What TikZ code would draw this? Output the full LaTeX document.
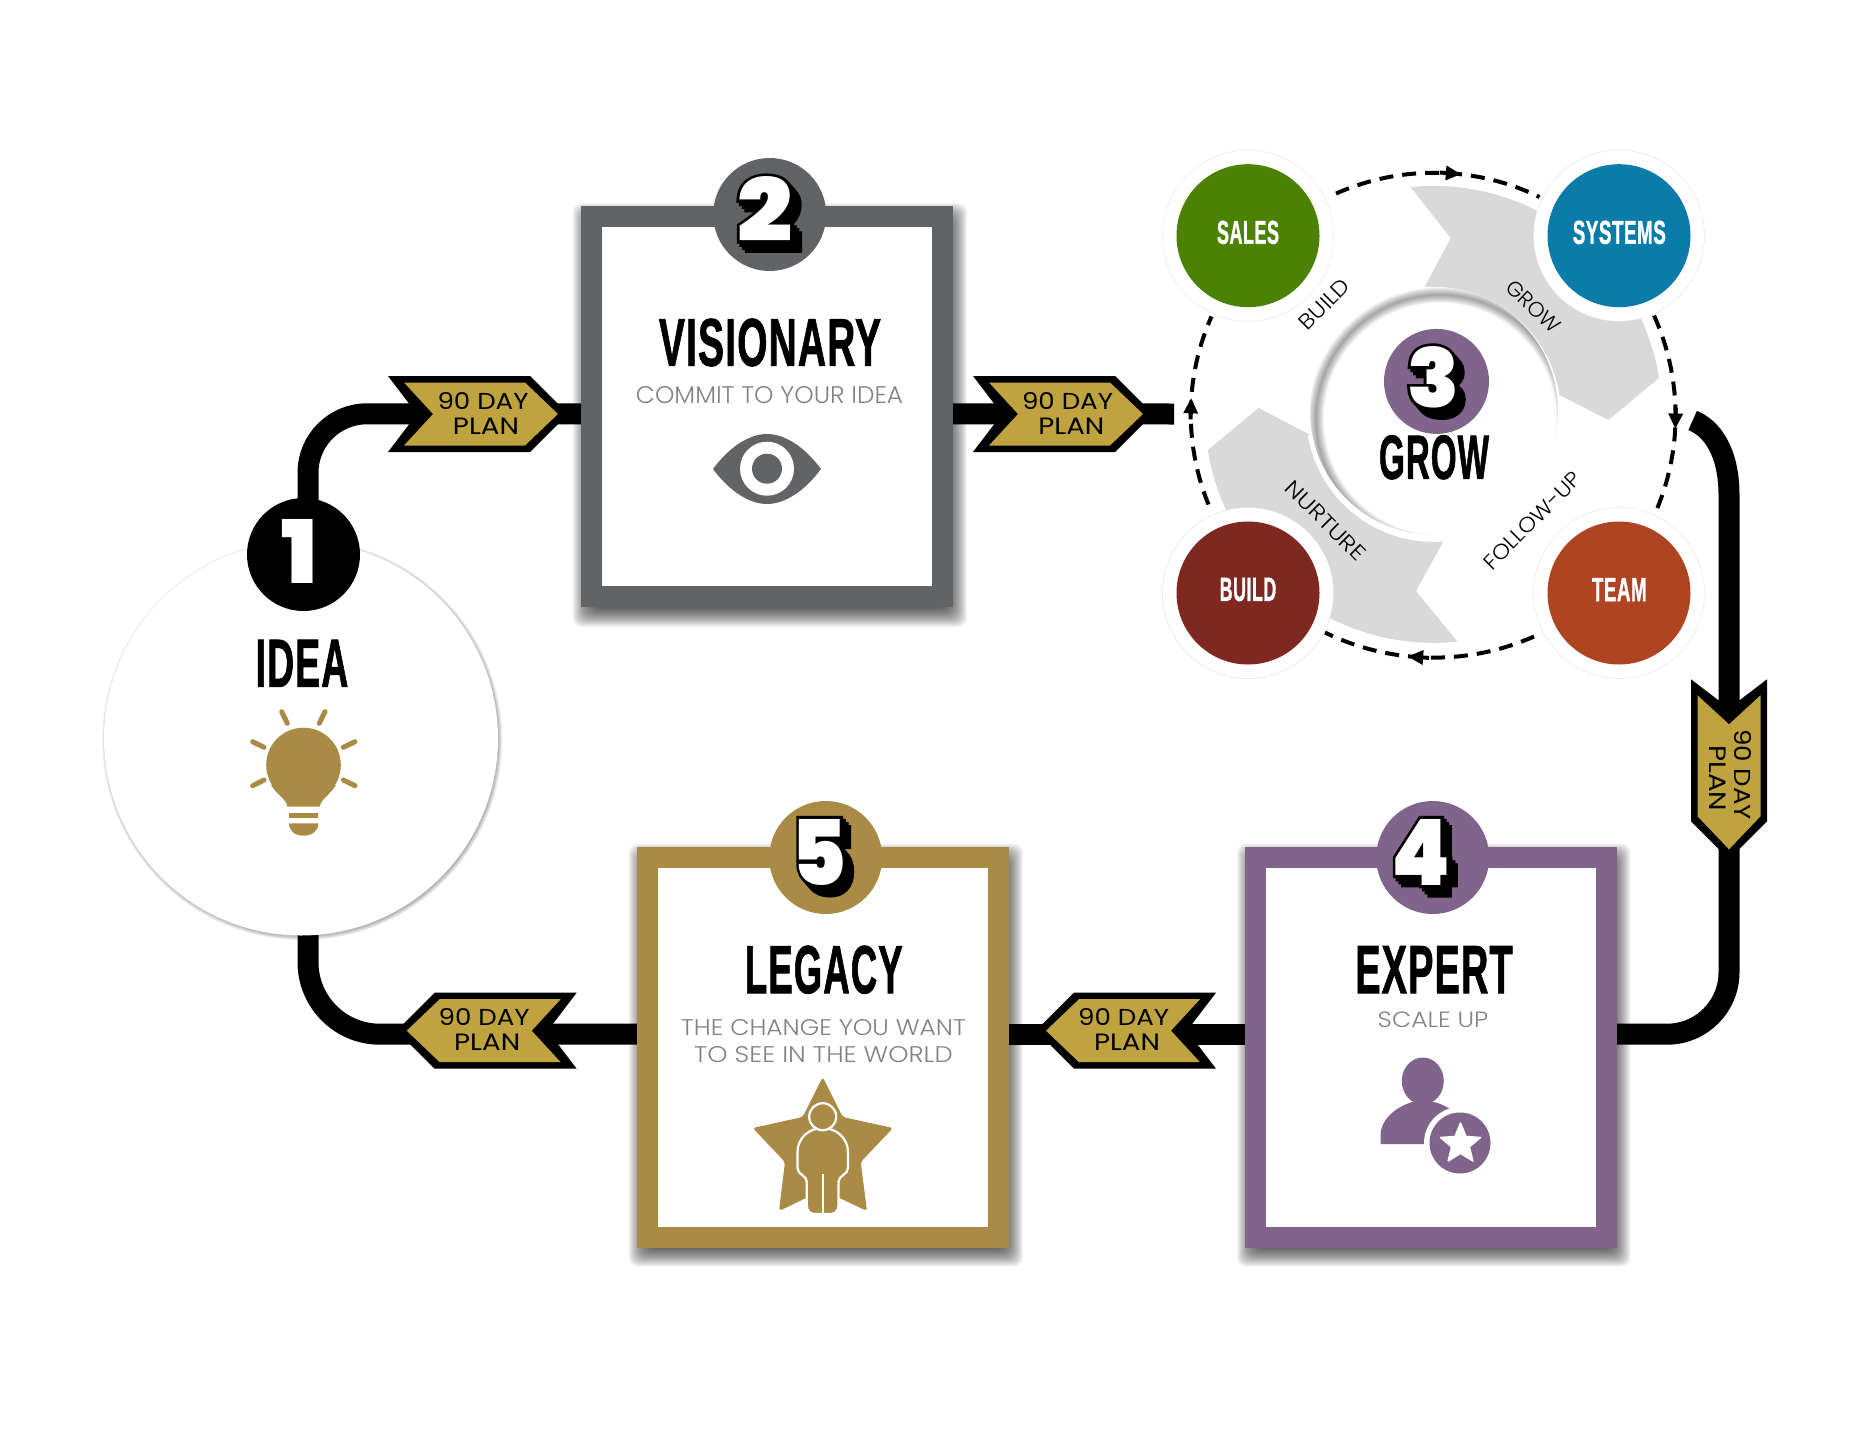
\documentclass[tikz,border=0pt]{standalone}
\usepackage{graphicx}
\usepackage{fontspec}
\usetikzlibrary{calc,backgrounds,shapes.geometric,arrows.meta,decorations.markings}
\setmainfont{Poppins}
\newfontfamily\ttlf[FakeBold=1.5,LetterSpace=3]{Liberation Sans Bold}
\newfontfamily\lightf{Poppins Light}
\newfontfamily\tagf{Poppins}
\newfontfamily\digthin{Poppins Black}
\newfontfamily\digfat[FakeBold=7]{Poppins Black}
\definecolor{cSales}{HTML}{4C8203}
\definecolor{cSystems}{HTML}{0B7CA9}
\definecolor{cBuild}{HTML}{7E2821}
\definecolor{cTeam}{HTML}{AE4422}
\definecolor{cPurple}{HTML}{81648B}
\definecolor{cGold}{HTML}{A98B46}
\definecolor{cTag}{HTML}{BEA33F}
\definecolor{cGrey}{HTML}{616365}
\definecolor{cLabel}{HTML}{808285}
\definecolor{cSwoosh}{HTML}{D9D9D9}
\newcommand\fit[3]{\resizebox{#1pt}{#2pt}{#3}}
\tikzset{
  txt/.style={inner sep=0pt,outer sep=0pt},
  framebox/.style={rectangle,fill=white,line width=21pt,minimum width=351pt,minimum height=380pt,inner sep=0pt},
  badge/.style={circle,minimum size=113pt,inner sep=0pt},
  spot/.style={circle,minimum size=143pt,inner sep=0pt},
  halo/.style={circle,fill=white,minimum size=171pt,inner sep=0pt,line width=.5pt},
  flowline/.style={line width=21pt,black},
  ringarc/.style={line width=4pt,black,dash pattern=on 14pt off 9pt,looseness=.89},
  ringmark/.style={postaction={decorate,decoration={markings,mark=at position #1 with {%
    \fill[black] (8,0)--(-7,-7.5)--(-7,7.5)--cycle;
    \draw[black,solid,line width=4pt] (-13,0)--(-6,0);}}}},
}
\newcommand\tagbody[3]{%
  \begin{scope}[shift={(#1,#2)},rotate=#3]
    \fill[black] (0,-38)--(142,-38)--(180,0)--(142,38)--(0,38)--(29,0)--cycle;
    \fill[cTag] (16,-31.5)--(137,-31.5)--(170,0)--(137,31.5)--(16,31.5)--(45,0)--cycle;
  \end{scope}}
\newcommand\digit[6]{%
  \foreach \s in {0,1,2,3}{%
    \node[txt] at (#2+\s*2.7,#3+\s*3.1) {\fit{#4}{#5}{\digfat #6}};}
  \node[txt,white] (#1) at (#2,#3) {\fit{#4}{#5}{\digthin #6}};}
\newcommand\frameshadow[4]{%
  \foreach \i in {-8,-7,...,11}{%
    \fill[black,opacity=.042,rounded corners=9pt] (#1+3-\i,#2+8-\i) rectangle (#3+3+\i,#4+8+\i);}}
\begin{document}
\begin{tikzpicture}[x=1pt,y=-1pt]
\useasboundingbox (0,0) rectangle (1864,1440);
\begin{scope}[on background layer]
  \fill[white] (0,0) rectangle (1864,1440);
  \frameshadow{580.7}{206}{953}{608}
  \frameshadow{636.7}{846.7}{1009}{1247.7}
  \frameshadow{1244.8}{846.7}{1616.6}{1247.7}
  \foreach \i in {0,1,...,6}{%
    \fill[black,opacity=.07] (302.3,740) circle (194+\i);}
\end{scope}

% 1 idea
\node[circle,fill=white,minimum size=394pt,inner sep=0pt] (idea) at (301,738.5) {};
\node[badge,fill=black] (b1) at (303.5,554.5) {};
\node[txt,white] (n1) at (300,551) {\fit{36}{64}{\digthin 1}};
\node[txt] (ideat) at (302,663.3) {\fit{92.6}{46.7}{\ttlf IDEA}};
\foreach \a/\b/\c/\d in {281.7/711.7/287.3/723.3, 325/711.7/319.3/723.3, 252.7/741.7/264/747.3, 355/741.7/343.3/747.3, 252.7/785.7/264/780, 355/785.7/343.3/780}{%
  \draw[cGold,line width=5pt,line cap=round] (\a,\b)--(\c,\d);}
\fill[cGold] (303.5,765) circle (37.3);
\fill[cGold] (271,785) .. controls (278,796) and (287.3,800) .. (287.3,806.7) -- (320,806.7) .. controls (320,800) and (329,796) .. (336,785) -- cycle;
\fill[cGold] (289,813) rectangle (318.3,818.3);
\fill[cGold] (289,823.3) -- (318.3,823.3) .. controls (318.3,831) and (312,835.7) .. (303.7,835.7) .. controls (295,835.7) and (289,831) .. (289,823.3) -- cycle;

% 2 visionary
\node[framebox,draw=cGrey] (box2) at (766.8,406.8) {};
\node[badge,fill=cGrey] (b2) at (769.7,214.5) {};
\digit{n2}{765}{209}{55}{65}{2}
\node[txt] (t2) at (770,342.5) {\fit{222}{47}{\ttlf VISIONARY}};
\node[txt,cLabel] (s2) at (769.5,395.5) {\fit{267}{17}{\lightf COMMIT TO YOUR IDEA}};
\fill[cGrey] (713,469) .. controls (730,446) and (750,434) .. (767,434) .. controls (784,434) and (804,446) .. (821,469) .. controls (804,492) and (784,504) .. (767,504) .. controls (750,504) and (730,492) .. (713,469) -- cycle;
\fill[white] (767,468.7) circle (27);
\fill[cGrey] (767,468.7) circle (15);

% 3 grow
\fill[cSwoosh] (1450.7,238) -- (1410.5,187)
  -- plot[domain=95.8:9.2,samples=40] ({1433.5+228.5*cos(\x)},{414.4-228.5*sin(\x)})
  -- (1608.4,420) -- (1560.5,395.5)
  -- plot[domain=8.5:94,samples=40] ({1433.5+127.5*cos(\x)},{414.4-127.5*sin(\x)})
  -- cycle;
\fill[cSwoosh] (1416,591) -- (1457,641)
  -- plot[domain=275.9:189,samples=40] ({1433.5+228.5*cos(\x)},{414.4-228.5*sin(\x)})
  -- (1258.6,408) -- (1310,434.7)
  -- plot[domain=189.2:274.4,samples=40] ({1433.5+127.5*cos(\x)},{414.4-127.5*sin(\x)})
  -- cycle;
\node[circle,fill=white,minimum size=248pt,inner sep=0pt] (core) at (1434,411) {};
\begin{scope}
  \clip (1434,411) circle (124);
  \foreach \k in {1,2,...,16}{%
    \draw[black,opacity=.025,line width=\k pt] (1440,419) circle (124);}
\end{scope}
\node[halo,draw=cSales!15] (h1) at (1248,235.7) {};
\node[halo,draw=cSystems!15] (h2) at (1619,235.7) {};
\node[halo,draw=cBuild!15] (h3) at (1248,593) {};
\node[halo,draw=cTeam!15] (h4) at (1619,593) {};
\node[spot,fill=cSales] (sales) at (1248,235.7) {};
\node[spot,fill=cSystems] (systems) at (1619,235.7) {};
\node[spot,fill=cBuild] (build) at (1248,593) {};
\node[spot,fill=cTeam] (team) at (1619,593) {};
\node[txt,white] (ls) at (1248,232.4) {\fit{62}{23}{\ttlf SALES}};
\node[txt,white] (ly) at (1619.3,232.4) {\fit{93}{23}{\ttlf SYSTEMS}};
\node[txt,white] (lb) at (1248,589.5) {\fit{56.6}{23}{\ttlf BUILD}};
\node[txt,white] (lt) at (1619.3,589.5) {\fit{54.7}{23}{\ttlf TEAM}};
\node[txt,rotate=45] (rb) at (1324.6,304) {\fit{62}{15}{\lightf BUILD}};
\node[txt,rotate=-43] (rg) at (1533.6,306.7) {\fit{66}{15}{\lightf GROW}};
\node[txt,rotate=45] (rf) at (1532.3,520.7) {\fit{128}{15}{\lightf FOLLOW-UP}};
\node[txt,rotate=-45] (rn) at (1325.5,520.7) {\fit{104}{15}{\lightf NURTURE}};
\node[badge,minimum size=105pt,fill=cPurple] (b3) at (1436.5,381.4) {};
\digit{n3}{1433}{377}{52}{61}{3}
\node[txt] (t3) at (1434,457.3) {\fit{110}{43.5}{\ttlf GROW}};
\coordinate (a1s) at (1336,193.6);
\coordinate (a1e) at (1539.5,197);
\coordinate (a2s) at (1654,315.5);
\coordinate (a2e) at (1655,513.6);
\coordinate (a3s) at (1534,636.5);
\coordinate (a3e) at (1325,632.5);
\coordinate (a4s) at (1208.5,504.5);
\coordinate (a4e) at (1211.5,316.5);
\draw[ringarc,ringmark=.57] (a1s) to[bend left=25] (a1e);
\draw[ringarc,ringmark=.53] (a2s) to[bend left=24] (a2e);
\draw[ringarc,ringmark=.56] (a3s) to[bend left=25] (a3e);
\draw[ringarc,ringmark=.52] (a4s) to[bend left=23] (a4e);

% 4 expert
\node[framebox,draw=cPurple] (box4) at (1430.7,1047.2) {};
\node[badge,fill=cPurple] (b4) at (1432.7,857.5) {};
\digit{n4}{1421}{852}{59}{66}{4}
\node[txt] (t4) at (1434,969.7) {\fit{157.4}{47}{\ttlf EXPERT}};
\node[txt,cLabel] (s4) at (1433,1019.5) {\fit{110.6}{15.6}{\lightf SCALE UP}};
\fill[cPurple] (1422.8,1081) ellipse (21 and 23.5);
\fill[cPurple] (1380.5,1144) -- (1380.5,1136) .. controls (1380.5,1120) and (1394,1108) .. (1412,1102) -- (1434,1102) .. controls (1442,1104) and (1450,1108) .. (1456,1114) -- (1440,1144) -- cycle;
\fill[white] (1460,1143) circle (36);
\fill[cPurple] (1460,1143) circle (30.5);
\node[star,star points=5,star point ratio=2.25,minimum size=42pt,inner sep=0pt,fill=white,draw=white,line width=1.5pt,line join=round] (st4) at (1460.5,1144) {};

% 5 legacy
\node[framebox,draw=cGold] (box5) at (822.9,1047.2) {};
\node[badge,fill=cGold] (b5) at (825.7,857.5) {};
\digit{n5}{819}{852}{55}{66}{5}
\node[txt] (t5) at (823.8,969.7) {\fit{157.7}{47.3}{\ttlf LEGACY}};
\node[txt,cLabel] (s5a) at (823.5,1028) {\fit{285}{16}{\lightf THE CHANGE YOU WANT}};
\node[txt,cLabel] (s5b) at (823.3,1055) {\fit{258.7}{16}{\lightf TO SEE IN THE WORLD}};
\fill[cGold,rounded corners=3pt] (822.7,1077) -- (842.7,1117) -- (893,1128) -- (860.7,1162) -- (867,1211) -- (822.7,1190) -- (779,1211) -- (785,1162) -- (752.7,1128) -- (802.7,1117) -- cycle;
\fill[cGold,draw=white,line width=2.2pt] (822.7,1128) .. controls (836,1128) and (848,1138) .. (848,1152) -- (848,1168) .. controls (848,1175) and (838.5,1175) .. (838.5,1182) -- (838.5,1205) .. controls (838.5,1211) and (835,1214) .. (830.5,1214) -- (814.7,1214) .. controls (810,1214) and (806.8,1211) .. (806.8,1205) -- (806.8,1182) .. controls (806.8,1175) and (797.5,1175) .. (797.5,1168) -- (797.5,1152) .. controls (797.5,1138) and (809,1128) .. (822.7,1128) -- cycle;
\draw[white,line width=2.2pt] (822.7,1174) -- (822.7,1214);
\fill[cGold,draw=white,line width=2.2pt] (822.7,1116.7) circle (13.5);

% ninety day tags
\tagbody{388}{414}{0}
\tagbody{973}{414}{0}
\tagbody{1729}{679.3}{-90}
\tagbody{1216}{1030.7}{180}
\tagbody{576.7}{1030.7}{180}
\foreach \nm/\x/\y in {g1/483/401, g2/1067.5/400.7, g4/1123.7/1017, g5/484.2/1017}{%
  \node[txt] (\nm) at (\x,\y) {\fit{91}{17}{\tagf 90 DAY}};}
\foreach \nm/\x/\y in {h1p/486/426, h2p/1071.3/426.5, h4p/1127/1042.3, h5p/487.2/1042.3}{%
  \node[txt] (\nm) at (\x,\y) {\fit{66}{16.5}{\tagf PLAN}};}
\node[txt,rotate=-90] (g3) at (1742.8,774.7) {\fit{91}{17}{\tagf 90 DAY}};
\node[txt,rotate=-90] (h3p) at (1718,778.4) {\fit{66}{16.5}{\tagf PLAN}};

% connectors, under everything above
\coordinate (c1a) at (308,520);
\coordinate (c2b) at (1174,414);
\coordinate (c3a) at (1692.6,420.5);
\coordinate (c3m) at (1729,495);
\coordinate (c5a) at (308,925);
\begin{scope}[on background layer]
  \draw[flowline,rounded corners=59pt] (c1a) |- ($(box2.west)+(0,7)$);
  \draw[flowline] ($(box2.east)+(0,7)$) -- (c2b);
  \draw[flowline] (c3a) .. controls (1712,428) and (1729,452) .. (c3m);
  \draw[flowline,rounded corners=62pt] (c3m) |- ($(box4.east)+(0,-13)$);
  \draw[flowline] ($(box4.west)+(0,-13)$) -- ($(box5.east)+(0,-13)$);
  \draw[flowline,rounded corners=72pt] ($(box5.west)+(0,-13)$) -| (c5a);
\end{scope}
\end{tikzpicture}
\end{document}
